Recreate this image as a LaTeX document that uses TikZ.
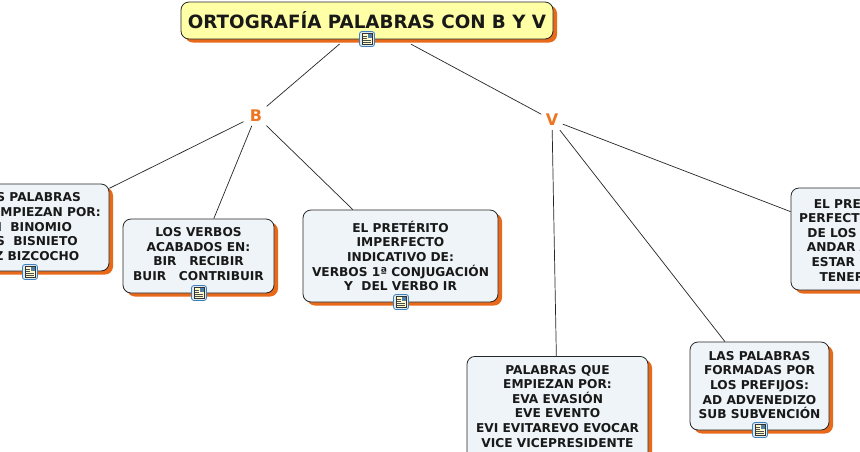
\documentclass[tikz,border=0pt]{standalone}
\usepackage{fontspec}
\setmainfont{DejaVu Sans}
\usetikzlibrary{shadows}
\definecolor{shOrange}{HTML}{E8691A}
\definecolor{lblOrange}{HTML}{EE7622}
\definecolor{boxFill}{HTML}{EEF4F7}
\definecolor{titleFill}{HTML}{FFFFA6}
\definecolor{iconBlue}{HTML}{3F7FB8}
\definecolor{iconPale}{HTML}{DCEAF6}
\tikzset{
  boxbase/.style={draw=black!85,line width=0.8pt,rounded corners=8pt,inner sep=0pt,align=center,
    text=black!90,drop shadow={shadow xshift=4pt,shadow yshift=-3.5pt,fill=shOrange,opacity=1}},
  topicbox/.style={boxbase,fill=boxFill,font=\fontsize{12.2}{14.6}\selectfont\bfseries},
  titlebox/.style={boxbase,fill=titleFill,font=\fontsize{18.3}{22}\selectfont\bfseries},
  letter/.style={text=lblOrange,font=\fontsize{16}{18}\selectfont\bfseries,minimum width=21pt,minimum height=20pt,inner sep=0pt},
  link/.style={draw=black!85,line width=0.7pt},
  noteicon/.pic={
    \draw[iconBlue,fill=iconPale,line width=0.8pt,rounded corners=2.5pt] (-7.5,-7.5) rectangle (7.5,7.5);
    \draw[black!80,fill=yellow!20!white,line width=0.5pt] (-5,-5.5) rectangle (5,5.5);
    \fill[iconBlue!70!gray] (0.5,-5) rectangle (4.6,-0.8);
    \foreach \yy in {-2.5,-0.5} \draw[black!70,line width=0.5pt] (-3.6,\yy) -- (-0.4,\yy);
    \foreach \yy in {1.3,3.1} \draw[black!70,line width=0.5pt] (-3.6,\yy) -- (3.6,\yy);
  }
}
\begin{document}
\begin{tikzpicture}[x=1pt,y=-1pt]
\useasboundingbox (0,0) rectangle (860,451);
\clip (0,0) rectangle (860,451);
\fill[white] (0,0) rectangle (860,451);
\node[titlebox,minimum width=372pt,minimum height=37pt] (title) at (367,20.5) {\raisebox{1.5pt}{ORTOGRAFÍA PALABRAS CON B Y V}};
\node[letter] (b) at (256,115.5) {B};
\node[letter] (v) at (552,120) {V};
\node[topicbox,minimum width=158pt,minimum height=87pt] (n1) at (30,227.5) {LAS PALABRAS\\QUE EMPIEZAN POR:\\BI\ \ BINOMIO\\BIS\ \ BISNIETO\\BIZ BIZCOCHO\\[-12.6pt]\rule{0pt}{0pt}};
\node[topicbox,minimum width=151pt,minimum height=74pt] (n2) at (198.5,256) {LOS VERBOS\\ACABADOS EN:\\BIR\ \ \ RECIBIR\\BUIR\ \ \ CONTRIBUIR\\[-10.6pt]\rule{0pt}{0pt}};
\node[topicbox,minimum width=195pt,minimum height=92pt] (n3) at (400.5,256) {EL PRETÉRITO\\IMPERFECTO\\INDICATIVO DE:\\VERBOS 1ª CONJUGACIÓN\\Y\ \ DEL VERBO IR};
\node[topicbox,minimum width=181pt,minimum height=124pt,anchor=north] (n4) at (557.5,356) {\rule{0pt}{8pt}\\[-7pt]PALABRAS QUE\\EMPIEZAN POR:\\EVA EVASIÓN\\EVE EVENTO\\EVI EVITAREVO EVOCAR\\VICE VICEPRESIDENTE\\\rule{0pt}{30pt}};
\node[topicbox,minimum width=139pt,minimum height=88pt] (n5) at (759.5,386) {LAS PALABRAS\\FORMADAS POR\\LOS PREFIJOS:\\AD ADVENEDIZO\\SUB SUBVENCIÓN\\[-12.6pt]\rule{0pt}{0pt}};
\node[topicbox,minimum width=142pt,minimum height=102pt] (n6) at (862,239) {EL PRETÉRITO\\PERFECTO SIMPLE\\DE LOS VERBOS\\ANDAR ANDUVE\\ESTAR ESTUVE\\TENER TUVE};
\draw[link,shorten <=7pt] (title) -- (b);
\draw[link,shorten <=10pt] (title) -- (v);
\draw[link,shorten <=2pt] (b) -- (n1);
\draw[link] (b) -- (n2);
\draw[link] (b) -- (n3);
\draw[link] (v) -- (n4);
\draw[link] (v) -- (n5);
\draw[link] (v) -- (n6);
\pic at (367,39) {noteicon};
\pic at (30,272) {noteicon};
\pic at (199,293) {noteicon};
\pic at (401,302) {noteicon};
\pic at (760,430) {noteicon};
\end{tikzpicture}
\end{document}
